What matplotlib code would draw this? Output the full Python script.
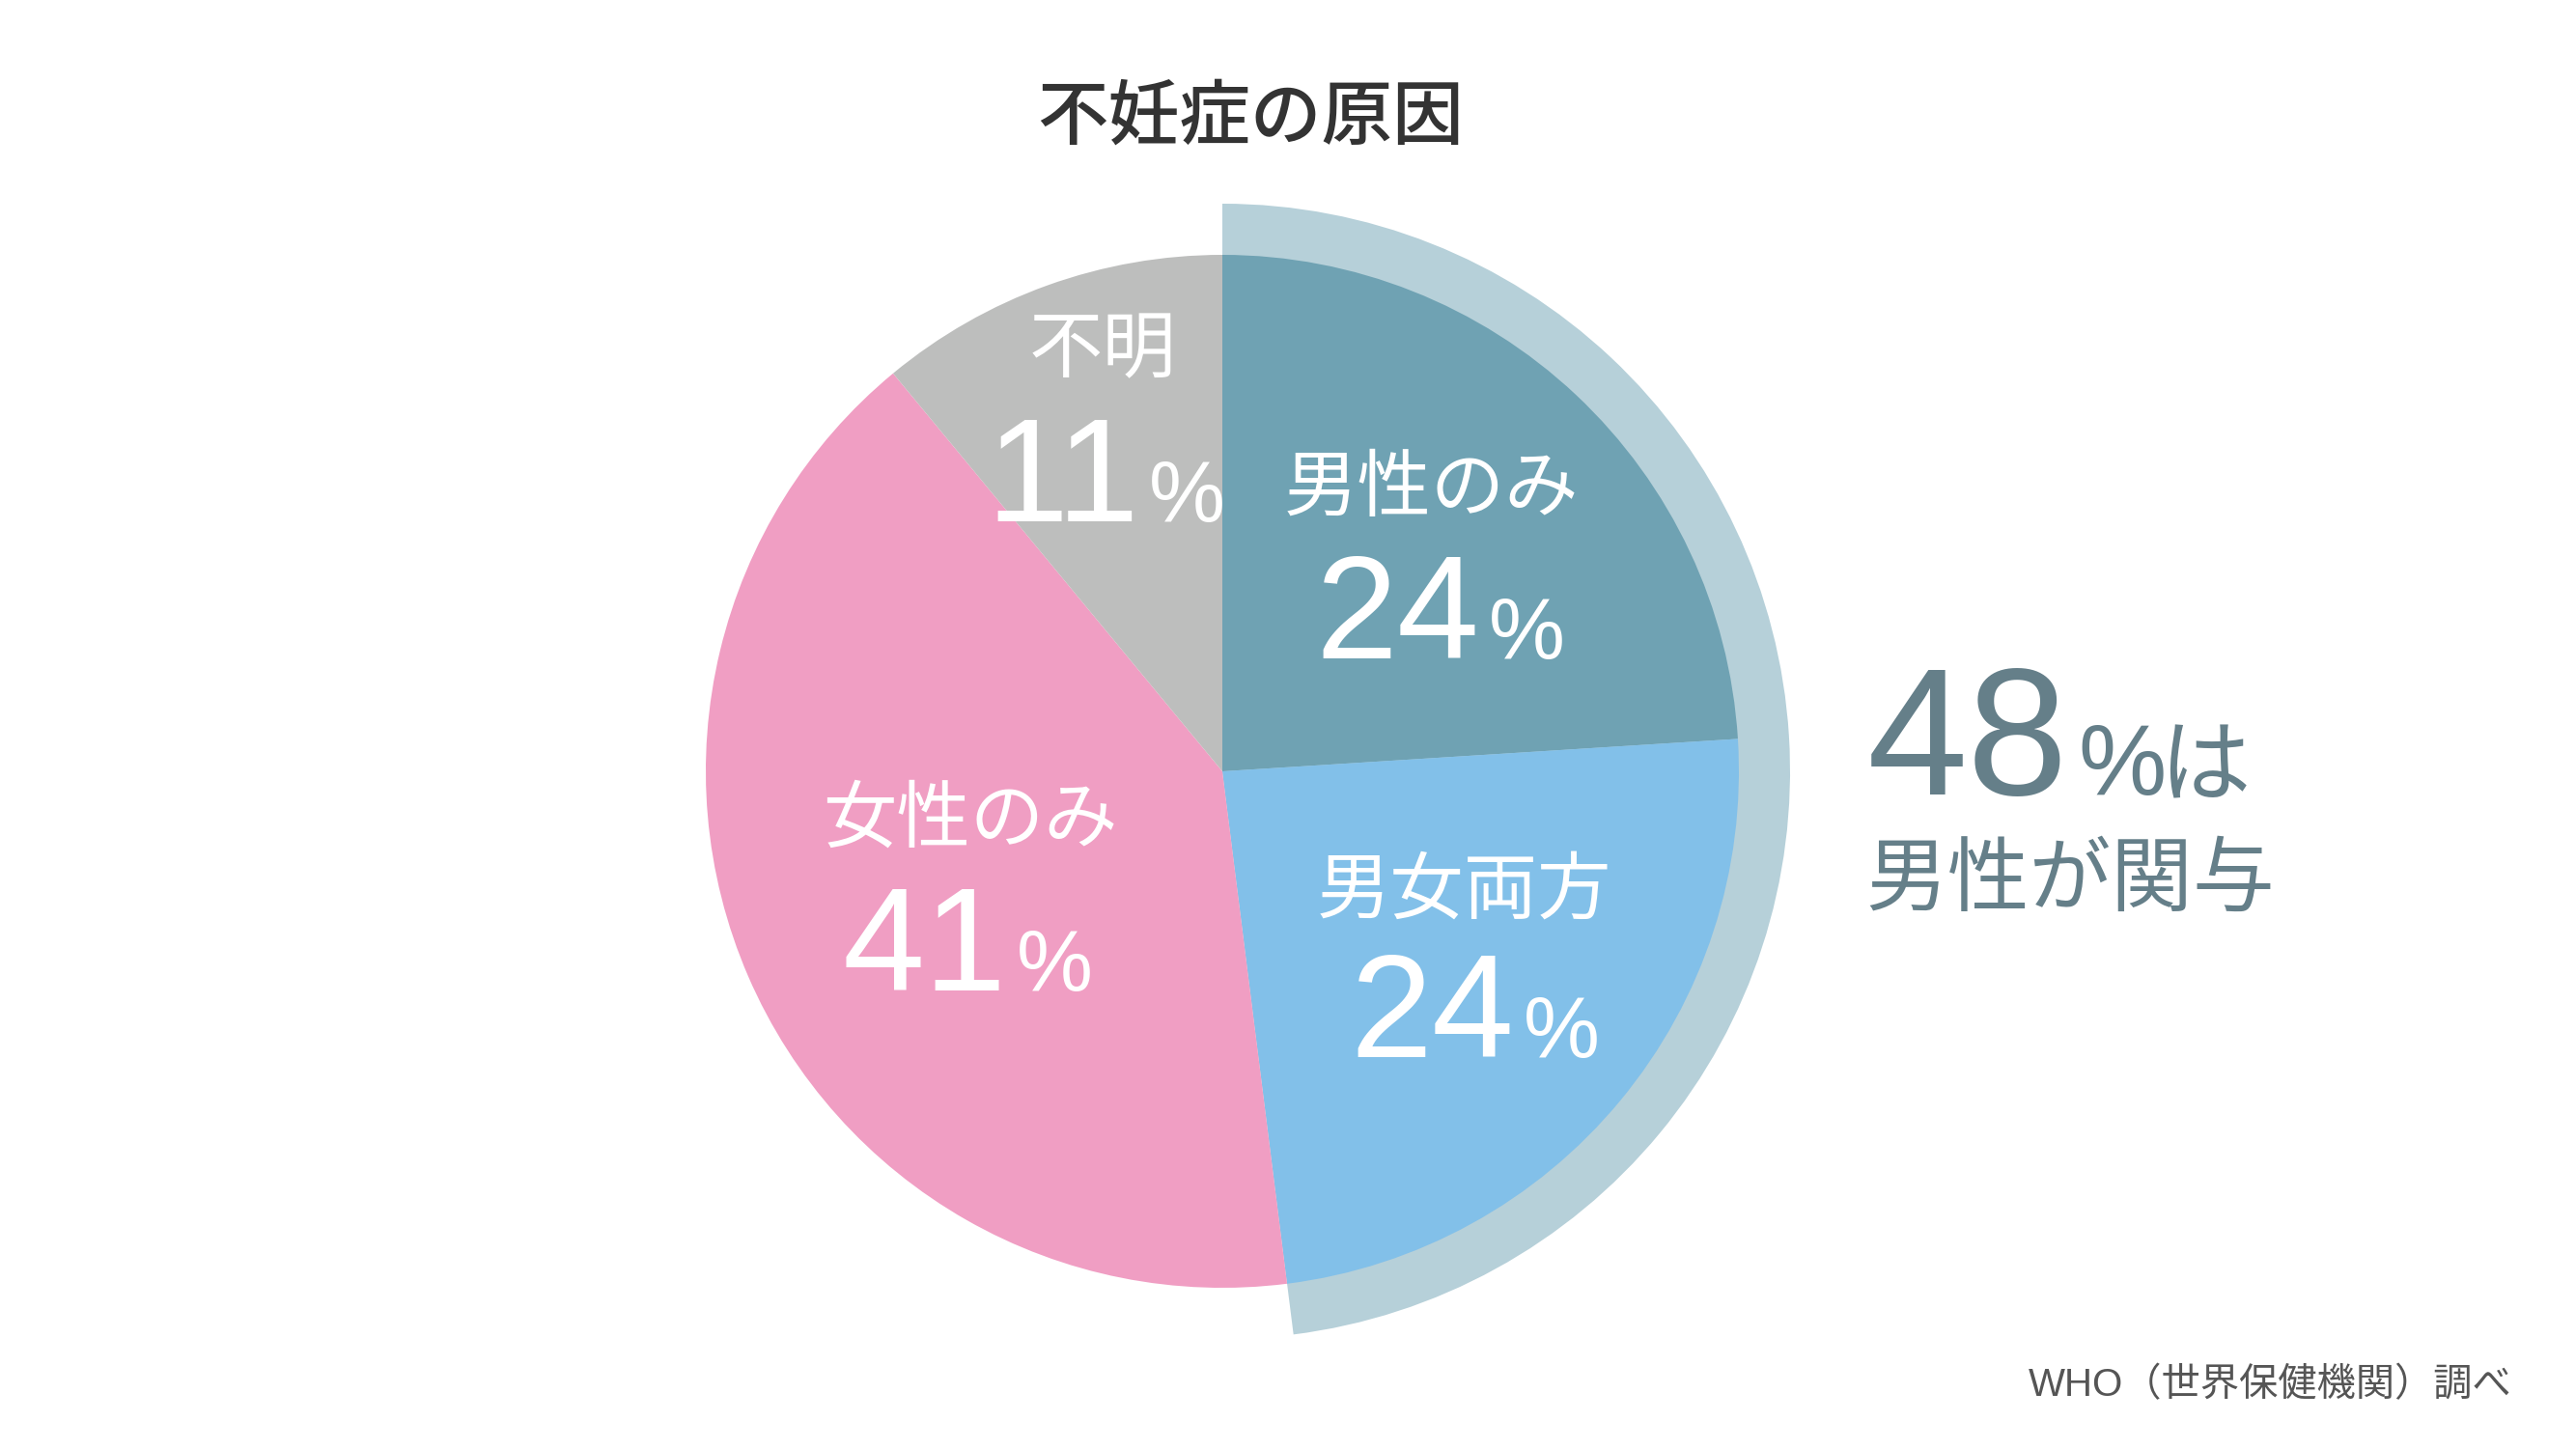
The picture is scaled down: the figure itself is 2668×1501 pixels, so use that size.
import matplotlib
matplotlib.use("Agg")
import matplotlib.pyplot as plt

plt.rcParams["font.family"] = ["Noto Sans CJK JP", "DejaVu Sans"]
LATIN = ["Liberation Sans", "Noto Sans CJK JP"]

# data
categories = ["男性のみ", "男女両方", "女性のみ", "不明"]
shares = [24, 24, 41, 11]
colors = ["#6FA2B3", "#82C0E9", "#F09EC3", "#BDBEBD"]
male_related = shares[0] + shares[1]
title = "不妊症の原因"
source = "WHO（世界保健機関）調べ"
note_line2 = "男性が関与"

W, H = 2668, 1501
fig = plt.figure(figsize=(W / 100, H / 100), dpi=100)
ax = fig.add_axes([0, 0, 1, 1])


def Y(y_img):
    return H - y_img


cx, cy = 1266, Y(799)
r_pie = 535
r_ring = 588

# outer band marking the male-related share
ax.pie([male_related, 100 - male_related], radius=r_ring, center=(cx, cy),
       startangle=90, counterclock=False, colors=["#B6D0D9", "none"],
       wedgeprops=dict(linewidth=0), frame=True)
ax.pie(shares, radius=r_pie, center=(cx, cy), startangle=90,
       counterclock=False, colors=colors,
       wedgeprops=dict(linewidth=0), frame=True)
ax.set_xlim(0, W)
ax.set_ylim(0, H)
ax.set_aspect("equal")
ax.axis("off")

# slice labels: (name centre x, name centre y, split x, baseline y)
label_pos = [
    (1482, 507, 1532, 682),
    (1516, 924, 1568, 1095),
    (1005, 850, 1043, 1026),
    (1142, 363, 1180, 540),
]
for name, v, (nx, ny, sx, by) in zip(categories, shares, label_pos):
    ax.text(nx, Y(ny), name, color="white", fontsize=55,
            ha="center", va="center")
    ax.text(sx, Y(by), f"{v}", color="white", fontsize=110, family=LATIN,
            ha="right", va="baseline")
    ax.text(sx + 10, Y(by), "%", color="white", fontsize=64, family=LATIN,
            ha="left", va="baseline")

# side note
note_c = "#657F89"
ax.text(1934, Y(823), f"{male_related}", color=note_c, fontsize=135,
        family=LATIN, ha="left", va="baseline")
ax.text(2152, Y(823), "%", color=note_c, fontsize=74, family=LATIN,
        ha="left", va="baseline")
ax.text(2236, Y(823), "は", color=note_c, fontsize=68,
        ha="left", va="baseline")
ax.text(1932, Y(913), note_line2, color=note_c, fontsize=61,
        ha="left", va="center")

ax.text(1295, Y(123), title, color="#333333", fontsize=53,
        fontweight="medium", ha="center", va="center")
ax.text(2602, Y(1435), source, color="#555555", fontsize=29, family=LATIN,
        ha="right", va="center")

fig.savefig("out.png", dpi=100, facecolor="white")
